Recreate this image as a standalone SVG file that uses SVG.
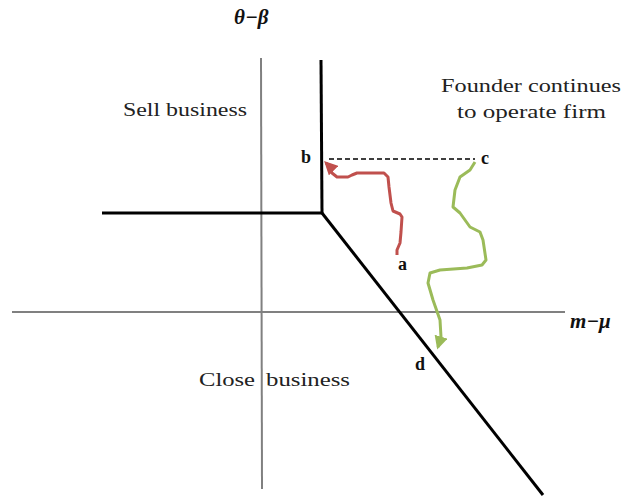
<svg xmlns="http://www.w3.org/2000/svg" width="629" height="498" viewBox="0 0 629 498">
<style>
.axis{stroke:#808080;stroke-width:2;fill:none}
.bound{stroke:#000;stroke-width:3;fill:none}
.lbl{font-family:'Liberation Serif','Times New Roman',serif;font-size:19px;fill:#222}
.pt{font-family:'Liberation Serif','Times New Roman',serif;font-size:18px;font-weight:bold;fill:#111}
.math{font-family:'Liberation Serif','Times New Roman',serif;font-size:21px;font-weight:bold;font-style:italic;fill:#111}
</style>
<defs>
<marker id="arR" viewBox="0 0 10 10" refX="8" refY="5" markerWidth="4.5" markerHeight="4.5" orient="auto" markerUnits="strokeWidth">
<path d="M0,0 L10,5 L0,10 z" fill="#c0504d"/>
</marker>
<marker id="arG" viewBox="0 0 10 10" refX="8" refY="5" markerWidth="4.5" markerHeight="4.5" orient="auto" markerUnits="strokeWidth">
<path d="M0,0 L10,5 L0,10 z" fill="#9bbb59"/>
</marker>
</defs>
<g id="axes">
<line class="axis" x1="12" y1="312" x2="565" y2="312"/>
<line class="axis" x1="261" y1="58" x2="262" y2="489"/>
</g>
<g id="boundaries">
<line class="bound" x1="321" y1="60" x2="322" y2="213"/>
<line class="bound" x1="102" y1="213" x2="322" y2="213"/>
<line class="bound" x1="322" y1="213" x2="543" y2="495"/>
</g>
<g id="connectors">
<line x1="329" y1="159" x2="475" y2="159" stroke="#000" stroke-width="1.3" stroke-dasharray="5,3"/>
<path d="M397,255 L397,250 L400,243 L401,232 L402,217 L400,214 L393,211 L391,203 L389,187 L388,177 L384,173 L357,173 L352,175 L348,177 L337,177 L332,173 L329,166 L326,163" fill="none" stroke="#c0504d" stroke-width="3" stroke-linejoin="round" marker-end="url(#arR)"/>
<path d="M475,162 L470,170 L460,177 L455,190 L453,207 L460,213 L470,227 L480,232 L483,240 L486,260 L482,265 L467,268 L440,270 L430,273 L428,283 L433,300 L440,320 L441,337 L438,347" fill="none" stroke="#9bbb59" stroke-width="3" stroke-linejoin="round" marker-end="url(#arG)"/>
</g>
<g id="labels">
<text class="math" x="234" y="24">θ−β</text>
<text class="math" x="570" y="328">m−μ</text>
<text class="lbl" x="123" y="116" textLength="124" lengthAdjust="spacingAndGlyphs">Sell business</text>
<text class="lbl" x="441" y="92" textLength="180" lengthAdjust="spacingAndGlyphs">Founder continues</text>
<text class="lbl" x="457" y="118" textLength="149" lengthAdjust="spacingAndGlyphs">to operate firm</text>
<text class="lbl" x="199" y="386" textLength="56" lengthAdjust="spacingAndGlyphs">Close</text>
<text class="lbl" x="266" y="386" textLength="84" lengthAdjust="spacingAndGlyphs">business</text>
<text class="pt" x="301" y="163">b</text>
<text class="pt" x="481" y="164">c</text>
<text class="pt" x="398" y="270">a</text>
<text class="pt" x="415" y="370">d</text>
</g>
</svg>
